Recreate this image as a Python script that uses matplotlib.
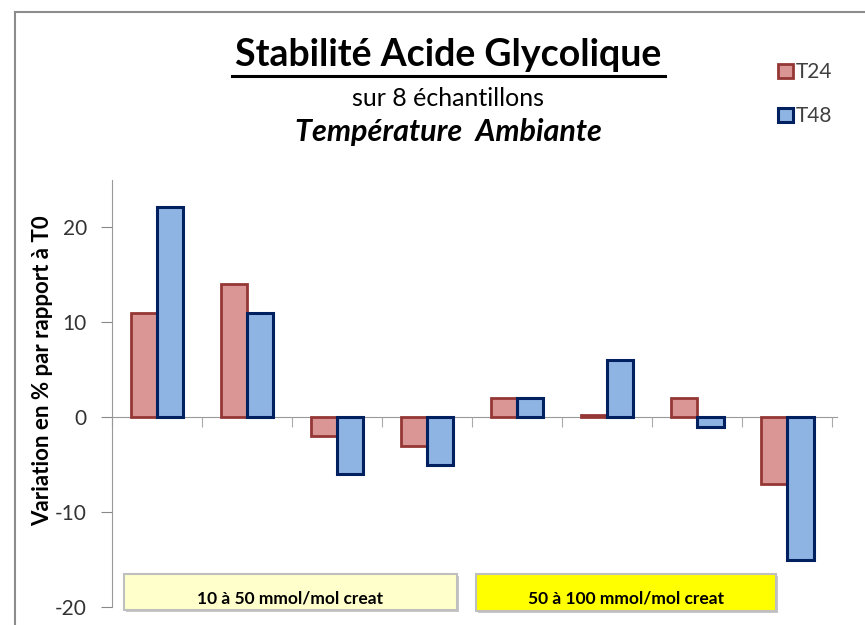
import numpy as np
import matplotlib.pyplot as plt
from matplotlib.patches import Rectangle
from matplotlib.lines import Line2D

# data
samples = np.arange(8)
t24 = [11, 14, -2, -3, 2, 0.2, 2, -7]
t48 = [22.2, 11, -6, -5, 2, 6, -1, -15]
group_labels = ['10 à 50 mmol/mol creat', '50 à 100 mmol/mol creat']
yticks = [-20, -10, 0, 10, 20]

W, H = 865, 625
fig = plt.figure(figsize=(W / 100, H / 100), dpi=100)
font = 'Lato'

# outer frame of the original chart area
fig.add_artist(Line2D([15 / W, 15 / W], [0, 1 - 12 / H], color='#8c8c8c', lw=1.5))
fig.add_artist(Line2D([15 / W, 1], [1 - 12 / H, 1 - 12 / H], color='#8c8c8c', lw=1.5))

ax = fig.add_axes([112 / W, 1 - 607 / H, 725 / W, 427 / H])
bw = 0.29
ax.bar(samples - bw / 2, t24, bw, color='#d99694', edgecolor='#953735', linewidth=2, label='T24')
ax.bar(samples + bw / 2, t48, bw, color='#8eb4e3', edgecolor='#002060', linewidth=2.2, label='T48')

ax.set_xlim(-0.5, 7.55)
ax.set_ylim(-20, 25)
ax.set_yticks(yticks)
ax.set_yticklabels([str(v) for v in yticks], fontsize=15, color='#333333', family=font)
ax.tick_params(axis='y', length=8, color='#888888', pad=10)
ax.set_xticks(np.arange(-0.5, 8, 1))
ax.set_xticklabels([])
ax.tick_params(axis='x', length=7, color='#aaaaaa', direction='out')
for s in ['top', 'right']:
    ax.spines[s].set_visible(False)
ax.spines['left'].set_color('#999999')
ax.spines['bottom'].set_position(('data', 0))
ax.spines['bottom'].set_color('#999999')
ax.spines['bottom'].set_zorder(0)

fig.text(43 / W, 1 - 371 / H, 'Variation en % par rapport à T0', rotation=90,
         ha='center', va='center', fontsize=16, fontweight='bold', family=font)

# titles
fig.text(448 / W, 1 - 55 / H, 'Stabilité Acide Glycolique', ha='center', va='center',
         fontsize=27, fontweight='bold', family=font)
fig.add_artist(Line2D([232 / W, 665 / W], [1 - 76 / H, 1 - 76 / H], color='black', lw=2.2))
fig.text(448 / W, 1 - 98 / H, 'sur 8 échantillons', ha='center', va='center',
         fontsize=18, family=font)
fig.text(448 / W, 1 - 132 / H, 'Température  Ambiante', ha='center', va='center',
         fontsize=22, fontweight='bold', style='italic', family=font)

# legend
leg = fig.legend(loc='upper left', bbox_to_anchor=(768 / W, 1 - 52 / H), frameon=False,
                 borderpad=0, handlelength=0.7, handleheight=0.7, handletextpad=0.15,
                 labelspacing=1.15, prop={'family': font, 'size': 15})
for txt in leg.get_texts():
    txt.set_color('#404040')

# concentration group boxes
boxes = [(124, 574, 333, 36, '#ffffcc'), (476, 574, 300, 37, '#ffff00')]
for (x0, y0, bwid, bh, col), lab in zip(boxes, group_labels):
    fig.add_artist(Rectangle(((x0 + 2) / W, 1 - (y0 + bh + 2) / H), bwid / W, bh / H,
                             transform=fig.transFigure, facecolor='#c8c8c8', edgecolor='none'))
    fig.add_artist(Rectangle((x0 / W, 1 - (y0 + bh) / H), bwid / W, bh / H,
                             transform=fig.transFigure, facecolor=col, edgecolor='#bfbfbf', lw=1.5))
    fig.text((x0 + bwid / 2) / W, 1 - (y0 + bh / 2 + 6) / H, lab, ha='center', va='center',
             fontsize=12.5, fontweight='bold', family=font)

fig.savefig('out.png', dpi=100)
